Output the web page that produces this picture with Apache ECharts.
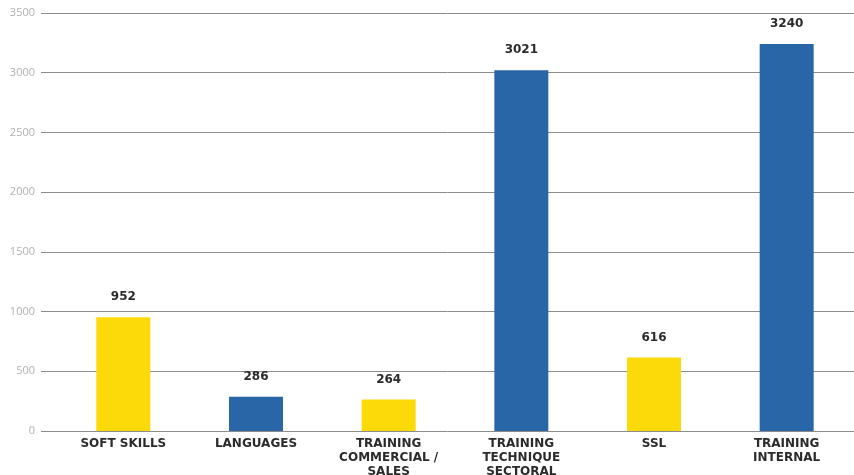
<!DOCTYPE html>
<html>
<head>
<meta charset="utf-8">
<script src="https://cdn.jsdelivr.net/npm/echarts@6/dist/echarts.min.js"></script>
<style>
  html, body { margin: 0; padding: 0; background: #ffffff; }
  #chart { width: 854px; height: 475px; }
</style>
</head>
<body>
<div id="chart"></div>
<script>
// Training hours per category
const categories = [
  'SOFT SKILLS',
  'LANGUAGES',
  'TRAINING\nCOMMERCIAL /\nSALES',
  'TRAINING\nTECHNIQUE\nSECTORAL',
  'SSL',
  'TRAINING\nINTERNAL'
];
const values = [952, 286, 264, 3021, 616, 3240];
const barColors = ['#FCD908', '#2966A8', '#FCD908', '#2966A8', '#FCD908', '#2966A8'];
const yTicks = { min: 0, max: 3500, interval: 500 };

const chart = echarts.init(document.getElementById('chart'), null, { renderer: 'canvas' });

const fontBold = '"DejaVu Sans", sans-serif';

chart.setOption({
  animation: false,
  grid: [
    // wide grid: y-axis labels and gridlines
    { left: 41, right: 0, top: 13, bottom: 44, outerBoundsMode: 'none', containLabel: false },
    // bar grid
    { left: 57, right: 1, top: 13, bottom: 44, outerBoundsMode: 'none', containLabel: false }
  ],
  xAxis: [
    { gridIndex: 0, type: 'category', data: [''], show: false },
    {
      gridIndex: 1,
      type: 'category',
      data: categories,
      axisLine: { show: false },
      axisTick: { show: false },
      axisLabel: {
        interval: 0,
        margin: 6,
        color: '#2b2b2b',
        fontFamily: fontBold,
        fontWeight: 'bold',
        fontSize: 12,
        lineHeight: 14
      }
    }
  ],
  yAxis: [
    {
      gridIndex: 0,
      type: 'value',
      min: yTicks.min, max: yTicks.max, interval: yTicks.interval,
      axisLine: { show: false },
      axisTick: { show: false },
      axisLabel: {
        margin: 6,
        color: '#b0b0b0',
        fontFamily: '"Open Sans", sans-serif',
        fontSize: 11,
        formatter: (v) => String(v)
      },
      splitLine: { lineStyle: { color: '#8c8c8c', width: 1 } }
    },
    {
      gridIndex: 1,
      type: 'value',
      min: yTicks.min, max: yTicks.max, interval: yTicks.interval,
      show: false
    }
  ],
  series: [{
    type: 'bar',
    xAxisIndex: 1,
    yAxisIndex: 1,
    barWidth: 54,
    data: values.map((v, i) => ({ value: v, itemStyle: { color: barColors[i] } })),
    label: {
      show: true,
      position: 'top',
      distance: 14,
      color: '#2b2b2b',
      fontFamily: fontBold,
      fontWeight: 'bold',
      fontSize: 12
    }
  }]
});
</script>
</body>
</html>
